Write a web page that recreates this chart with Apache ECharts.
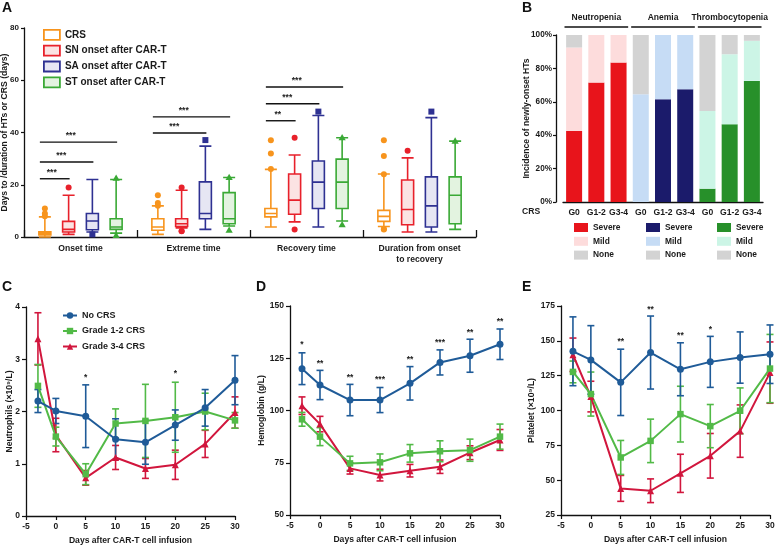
<!DOCTYPE html>
<html><head><meta charset="utf-8">
<script src="https://cdn.jsdelivr.net/npm/echarts@6/dist/echarts.min.js"></script>
<style>html,body{margin:0;padding:0;background:#fff}#c{width:775px;height:545px}</style>
</head><body><div id="c"></div>
<script>
// ===== Panel A: box plots =====
const aCategories = ['Onset time', 'Extreme time', 'Recovery time', 'Duration from onset\nto recovery'];
const aSeriesNames = ['CRS', 'SN onset after CAR-T', 'SA onset after CAR-T', 'ST onset after CAR-T'];
// [min, Q1, median, Q3, max] for each category
const aCRS = [[0, 0.8, 1.5, 2, 7.7], [1, 2.6, 3.8, 7, 11.9], [3.8, 7.7, 9, 10.9, 25.9], [4, 6, 7.9, 10.2, 24.1]];
const aSN  = [[1, 1.9, 2.9, 6, 16], [3.5, 4, 5.1, 7, 17.9], [5.8, 8.7, 14.1, 24.1, 31.4], [1.9, 4.7, 10.5, 21.8, 30.3]];
const aSA  = [[1.9, 2.8, 6.1, 9, 22], [2.9, 7, 9, 21.1, 34.8], [3.8, 10.9, 21, 29.1, 46.5], [1.9, 3.8, 11.9, 23, 45.7]];
const aST  = [[1.5, 2.9, 3.8, 7, 22], [4.2, 5.1, 7, 17, 22.8], [6.1, 10.9, 21, 29.8, 38], [2.9, 5.1, 16, 23, 36.7]];
// outliers: [categoryIndex, value]
const aCRSOut = [[0, 7.9], [0, 9], [0, 10.9], [1, 12], [1, 13], [1, 16], [2, 26], [2, 32], [2, 37], [3, 24], [3, 31], [3, 37], [3, 2.9], [3, 3.1]];
const aSNOut  = [[0, 18.9], [1, 18.9], [1, 2.2], [1, 2.3], [2, 38], [2, 2.9], [3, 33]];
const aSAOut  = [[0, 1], [1, 37.1], [2, 48], [3, 48]];
const aSTOut  = [[0, 22.5], [0, 0.6], [1, 22.8], [1, 2.6], [2, 38], [2, 4.7], [3, 36.7]];
// significance: [categoryIndex, fromSeries, toSeries, y]
const aSig = [[0, 0, 1, 22.3], [0, 0, 2, 28.7], [0, 0, 3, 36.3], [1, 0, 2, 39.8], [1, 0, 3, 46], [2, 0, 1, 44.5], [2, 0, 2, 51], [2, 0, 3, 57.4]];
const aSigLabels = ['***', '***', '***', '***', '***', '**', '***', '***'];
const aYTicks = [0, 20, 40, 60, 80];

// ===== Panel B: stacked incidence =====
const bGroups = ['Neutropenia', 'Anemia', 'Thrombocytopenia'];
const bGrades = ['G0', 'G1-2', 'G3-4'];
const bSevere = [42.5, 71.5, 83.5, 0, 61.5, 67.5, 8, 46.5, 72.5];
const bMild   = [50, 28.5, 16.5, 64.5, 38.5, 32.5, 46.5, 42, 24];
const bNone   = [7.5, 0, 0, 35.5, 0, 0, 45.5, 11.5, 3.5];
const bLevels = ['Severe', 'Mild', 'None'];

// ===== Panels C, D, E: time courses (mean ± error) =====
const days = [-3, 0, 5, 10, 15, 20, 25, 30];
const lineNames = ['No CRS', 'Grade 1-2 CRS', 'Grade 3-4 CRS'];
const cNo  = [2.20, 2.01, 1.91, 1.47, 1.41, 1.74, 2.07, 2.60];
const cNoE = [0.22, 0.24, 0.60, 0.39, 0.42, 0.29, 0.35, 0.47];
const cG12  = [2.49, 1.52, 0.80, 1.77, 1.82, 1.89, 2.00, 1.83];
const cG12E = [0.41, 0.18, 0.20, 0.28, 0.70, 0.67, 0.35, 0.15];
const cG34  = [3.39, 1.55, 0.73, 1.12, 0.91, 0.98, 1.38, 1.98];
const cG34E = [0.50, 0.32, 0.14, 0.23, 0.19, 0.28, 0.26, 0.30];
const cStars = [[5, 2.70], [20, 2.78]];
const cStarLabels = ['*', '*'];

const dNo  = [120, 112.2, 105, 105, 113, 123, 126.2, 131.7];
const dNoE = [7.6, 7, 7.5, 6, 8, 6, 7.9, 7.3];
const dG12  = [95.8, 87.5, 74.7, 75.2, 79.5, 80.5, 81, 87.5];
const dG12E = [3.3, 4.3, 3.4, 4, 4.2, 5, 5.3, 6];
const dG34  = [102.3, 93.5, 72.3, 69.1, 71.2, 73.1, 79.8, 85.9];
const dG34E = [4.2, 3.7, 2.7, 2.8, 3, 3.2, 3.3, 5];
const dStars = [[-3, 133], [0, 124], [5, 117], [10, 116], [15, 126], [20, 134], [25, 138.8], [30, 143.8]];
const dStarLabels = ['*', '**', '**', '***', '**', '***', '**', '**'];

const eNo  = [142.5, 136.3, 120.2, 141.6, 129.6, 134.9, 138, 140.4];
const eNoE = [24.7, 24.6, 23.8, 26.2, 19, 18.3, 18.4, 21];
const eG12  = [127.7, 111.8, 66.3, 78.2, 97.4, 88.8, 99.8, 130.1];
const eG12E = [7.8, 15.8, 12.2, 15.6, 20, 15.5, 16.4, 24.5];
const eG34  = [140, 110, 44.1, 42.4, 54.9, 67.5, 85.2, 127.2];
const eG34E = [12, 11, 9.3, 8.5, 13.7, 16, 18.8, 22];
const eStars = [[5, 151.6], [10, 174.8], [15, 155.7], [20, 160.4]];
const eStarLabels = ['**', '**', '**', '*'];

// ===== styling =====
const FONT = '"Liberation Sans", Arial, sans-serif';
const TXT = '#1a1a1a';
const boxColors = ['#F7941D', '#E8212B', '#2E3192', '#3AA935'];
const boxFills  = ['#ffffff', '#fbe3e3', '#e6e6f3', '#e3f3e0'];
const bColors = [
  ['#E8141B', '#FDDCDC', '#D3D3D3'],
  ['#1B1B6B', '#C6DCF5', '#D3D3D3'],
  ['#27902A', '#CCF5E6', '#D3D3D3']
];
const lineColors = ['#1F5B98', '#52BA47', '#D1163D'];
const lineSymbols = ['circle', 'rect', 'triangle'];

const chart = echarts.init(document.getElementById('c'), null, {renderer: 'canvas'});

function boxOffset(bw, idx, n) {
  const avail = bw * 0.8 - 2;
  const gap = avail / n * 0.3;
  const w = (avail - gap * (n - 1)) / n;
  return w / 2 - avail / 2 + idx * (gap + w);
}

const axisLineStyle = {show: true, onZero: false, lineStyle: {color: '#111', width: 1.3}};
const tickStyle = {show: true, length: 3, lineStyle: {color: '#111', width: 1.2}};
const labelStyle = {color: TXT, fontFamily: FONT, fontWeight: 'bold', fontSize: 8.5};
const nameStyle = {color: TXT, fontFamily: FONT, fontWeight: 'bold', fontSize: 8.6};

const grids = [
  {left: 24, top: 28, width: 452, height: 209},
  {left: 563, top: 35, width: 200, height: 167},
  {left: 26, top: 307, width: 209, height: 209},
  {left: 290, top: 306, width: 210, height: 209},
  {left: 561, top: 306, width: 209, height: 209}
].map(g => Object.assign({outerBoundsMode: 'none', containLabel: false}, g));

const bCatKeys = [];
bGroups.forEach(g => bGrades.forEach(c => bCatKeys.push(g + '|' + c)));

const xAxes = [
  {gridIndex: 0, type: 'category', data: aCategories, axisLine: axisLineStyle,
   axisTick: {show: true, inside: true, length: 7, lineStyle: {color: '#111', width: 1.3}},
   axisLabel: Object.assign({}, labelStyle, {fontSize: 8.6, margin: 6, lineHeight: 11, interval: 0})},
  {gridIndex: 1, type: 'category', data: bCatKeys, axisLine: axisLineStyle,
   axisTick: {show: false},
   axisLabel: Object.assign({}, labelStyle, {fontSize: 8.6, margin: 6, interval: 0, formatter: v => v.split('|')[1]})}
];
const yAxes = [
  {gridIndex: 0, type: 'value', min: aYTicks[0], max: aYTicks[aYTicks.length - 1], interval: 20,
   splitLine: {show: false}, axisLine: axisLineStyle, axisTick: tickStyle,
   axisLabel: Object.assign({}, labelStyle, {fontSize: 8, margin: 5}),
   name: 'Days to /duration of HTs or CRS (days)', nameLocation: 'middle', nameGap: 15, nameMoveOverlap: false,
   nameTextStyle: nameStyle},
  {gridIndex: 1, type: 'value', min: 0, max: 100, interval: 20, offset: 7,
   splitLine: {show: false}, axisLine: axisLineStyle, axisTick: tickStyle,
   axisLabel: Object.assign({}, labelStyle, {fontSize: 8.2, margin: 4, formatter: '{value}%'}),
   name: 'Incidence of newly-onset HTs', nameLocation: 'middle', nameGap: 25, nameMoveOverlap: false,
   nameTextStyle: nameStyle}
];
const lineAxes = [
  {grid: 2, min: 0, max: 4, interval: 1, name: 'Neutrophils (×10⁹/L)', gap: 12},
  {grid: 3, min: 50, max: 150, interval: 25, name: 'Hemoglobin (g/L)', gap: 24},
  {grid: 4, min: 25, max: 175, interval: 25, name: 'Platelet (×10⁹/L)', gap: 25}
];
lineAxes.forEach(a => {
  xAxes.push({gridIndex: a.grid, type: 'value', min: -5, max: 30, interval: 5,
    splitLine: {show: false}, axisLine: axisLineStyle, axisTick: Object.assign({}, tickStyle, {length: 4}),
    axisLabel: Object.assign({}, labelStyle, {margin: 6}),
    name: 'Days after CAR-T cell infusion', nameLocation: 'middle', nameGap: 20, nameMoveOverlap: false,
    nameTextStyle: nameStyle});
  yAxes.push({gridIndex: a.grid, type: 'value', min: a.min, max: a.max, interval: a.interval,
    splitLine: {show: false}, axisLine: axisLineStyle, axisTick: Object.assign({}, tickStyle, {length: 4}),
    axisLabel: Object.assign({}, labelStyle, {margin: 6}),
    name: a.name, nameLocation: 'middle', nameGap: a.gap, nameMoveOverlap: false, nameTextStyle: nameStyle});
});

const series = [];

// --- Panel A ---
const aBoxData = [aCRS, aSN, aSA, aST];
const aOutData = [aCRSOut, aSNOut, aSAOut, aSTOut];
aSeriesNames.forEach((n, i) => {
  series.push({type: 'boxplot', name: n, xAxisIndex: 0, yAxisIndex: 0, boxWidth: [12, 12],
    data: aBoxData[i], itemStyle: {color: boxFills[i], borderColor: boxColors[i], borderWidth: 1.6},
    emphasis: {disabled: true}, z: 3});
});
aSeriesNames.forEach((n, i) => {
  series.push({type: 'custom', name: n + ' outliers', xAxisIndex: 0, yAxisIndex: 0, data: aOutData[i], z: 4,
    renderItem: (params, api) => {
      const p = api.coord([api.value(0), api.value(1)]);
      const bw = api.size([1, 0])[0];
      const x = p[0] + boxOffset(bw, i, 4), y = p[1];
      const st = {fill: boxColors[i]};
      if (i < 2) return {type: 'circle', shape: {cx: x, cy: y, r: 3}, style: st};
      if (i === 2) return {type: 'rect', shape: {x: x - 3, y: y - 3, width: 6, height: 6}, style: st};
      return {type: 'polygon', shape: {points: [[x, y - 3.8], [x - 3.6, y + 2.6], [x + 3.6, y + 2.6]]}, style: st};
    }});
});
series.push({type: 'custom', name: 'A significance', xAxisIndex: 0, yAxisIndex: 0, data: aSig, z: 5,
  renderItem: (params, api) => {
    const p = api.coord([api.value(0), api.value(3)]);
    const bw = api.size([1, 0])[0];
    const x1 = p[0] + boxOffset(bw, api.value(1), 4) - 5;
    const x2 = p[0] + boxOffset(bw, api.value(2), 4) + 1;
    return {type: 'group', children: [
      {type: 'line', shape: {x1: x1, y1: p[1], x2: x2, y2: p[1]}, style: {stroke: '#111', lineWidth: 1.4}},
      {type: 'text', style: {text: aSigLabels[params.dataIndex], x: x1 + (x2 - x1) * 0.4, y: p[1] - 2,
        align: 'center', verticalAlign: 'bottom', font: 'bold 8.5px ' + FONT, fill: '#222'}}
    ]};
  }});

// --- Panel B ---
const bLevelData = [bSevere, bMild, bNone];
bGroups.forEach((g, gi) => {
  bLevels.forEach((lv, li) => {
    series.push({type: 'bar', name: g + '|' + lv, xAxisIndex: 1, yAxisIndex: 1, stack: 'inc',
      barCategoryGap: '28%', itemStyle: {color: bColors[gi][li]},
      emphasis: {disabled: true},
      data: bLevelData[li].map((v, k) => (Math.floor(k / 3) === gi ? v : '-'))});
  });
});
series.push({type: 'custom', name: 'B groups', xAxisIndex: 1, yAxisIndex: 1, z: 5,
  data: bGroups.map((g, gi) => [gi * 3, gi * 3 + 2]),
  renderItem: (params, api) => {
    const bw = api.size([1, 0])[0];
    const a = api.coord([api.value(0), 100]);
    const b = api.coord([api.value(1), 100]);
    const x1 = a[0] - bw / 2 + 1.5, x2 = b[0] + bw / 2 - 1.5, y = a[1] - 8;
    return {type: 'group', children: [
      {type: 'line', shape: {x1: x1, y1: y, x2: x2, y2: y}, style: {stroke: '#111', lineWidth: 1.3}},
      {type: 'text', style: {text: bGroups[params.dataIndex], x: (x1 + x2) / 2, y: y - 9,
        align: 'center', verticalAlign: 'middle', font: 'bold 8.5px ' + FONT, fill: TXT}}
    ]};
  }});

// --- Panels C, D, E ---
const panels = [
  {ax: 2, means: [cNo, cG12, cG34], errs: [cNoE, cG12E, cG34E], stars: cStars, starLabels: cStarLabels},
  {ax: 3, means: [dNo, dG12, dG34], errs: [dNoE, dG12E, dG34E], stars: dStars, starLabels: dStarLabels},
  {ax: 4, means: [eNo, eG12, eG34], errs: [eNoE, eG12E, eG34E], stars: eStars, starLabels: eStarLabels}
];
panels.forEach(pn => {
  [2, 1, 0].forEach(s => {
    const col = lineColors[s];
    series.push({type: 'custom', name: lineNames[s] + ' err', xAxisIndex: pn.ax, yAxisIndex: pn.ax, z: 2,
      data: days.map((d, k) => [d, pn.means[s][k] - pn.errs[s][k], pn.means[s][k] + pn.errs[s][k]]),
      renderItem: (params, api) => {
        const x = api.value(0);
        const p1 = api.coord([x, api.value(1)]), p2 = api.coord([x, api.value(2)]);
        const cw = 3.5, st = {stroke: col, lineWidth: 1.6};
        return {type: 'group', children: [
          {type: 'line', shape: {x1: p1[0], y1: p1[1], x2: p2[0], y2: p2[1]}, style: st},
          {type: 'line', shape: {x1: p1[0] - cw, y1: p1[1], x2: p1[0] + cw, y2: p1[1]}, style: st},
          {type: 'line', shape: {x1: p2[0] - cw, y1: p2[1], x2: p2[0] + cw, y2: p2[1]}, style: st}
        ]};
      }});
  });
  [2, 1, 0].forEach(s => {
    series.push({type: 'line', name: lineNames[s], xAxisIndex: pn.ax, yAxisIndex: pn.ax, z: 3,
      data: days.map((d, k) => [d, pn.means[s][k]]),
      symbol: lineSymbols[s], symbolSize: s === 1 ? 6.5 : 7, showSymbol: true,
      itemStyle: {color: lineColors[s]}, lineStyle: {color: lineColors[s], width: 2},
      emphasis: {disabled: true}});
  });
  series.push({type: 'custom', name: 'stars', xAxisIndex: pn.ax, yAxisIndex: pn.ax, z: 5, data: pn.stars,
    renderItem: (params, api) => {
      const p = api.coord([api.value(0), api.value(1)]);
      return {type: 'text', style: {text: pn.starLabels[params.dataIndex], x: p[0], y: p[1] + 3,
        align: 'center', verticalAlign: 'middle', font: 'bold 8.5px ' + FONT, fill: '#222'}};
    }});
});

const legendText = {color: TXT, fontFamily: FONT, fontWeight: 'bold'};
const legends = [
  {data: aSeriesNames.map((n, i) => ({name: n, itemStyle: {color: boxFills[i], borderColor: boxColors[i], borderWidth: 1.8}})),
   left: 38, top: 24, orient: 'vertical', icon: 'rect', itemWidth: 16, itemHeight: 10,
   itemGap: 4, textStyle: Object.assign({fontSize: 10}, legendText)},
  {data: lineNames, left: 57, top: 306, orient: 'vertical', itemWidth: 14, itemHeight: 8, itemGap: 6.5,
   textStyle: Object.assign({fontSize: 9}, legendText)}
];
const bLegendLeft = [569, 641, 712];
bGroups.forEach((g, gi) => {
  legends.push({data: bLevels.map(l => g + '|' + l), left: bLegendLeft[gi], top: 218, orient: 'vertical',
    icon: 'rect', itemWidth: 14, itemHeight: 9, itemGap: 4.8,
    formatter: n => n.split('|')[1], textStyle: Object.assign({fontSize: 8.4}, legendText)});
});
legends.forEach(l => { l.selectedMode = false; });

const letterStyle = (t, x, y) => ({type: 'text', left: x, top: y, style: {text: t, font: 'bold 14px ' + FONT, fill: '#111'}});
const graphic = [
  letterStyle('A', 2, 1), letterStyle('B', 522, 1), letterStyle('C', 2, 280), letterStyle('D', 256, 280), letterStyle('E', 522, 280),
  {type: 'text', left: 522, top: 207, style: {text: 'CRS', font: 'bold 8.6px ' + FONT, fill: TXT}}
];

chart.setOption({
  animation: false,
  backgroundColor: '#fff',
  textStyle: {fontFamily: FONT},
  grid: grids, xAxis: xAxes, yAxis: yAxes, series: series, legend: legends, graphic: graphic
});
</script></body></html>
